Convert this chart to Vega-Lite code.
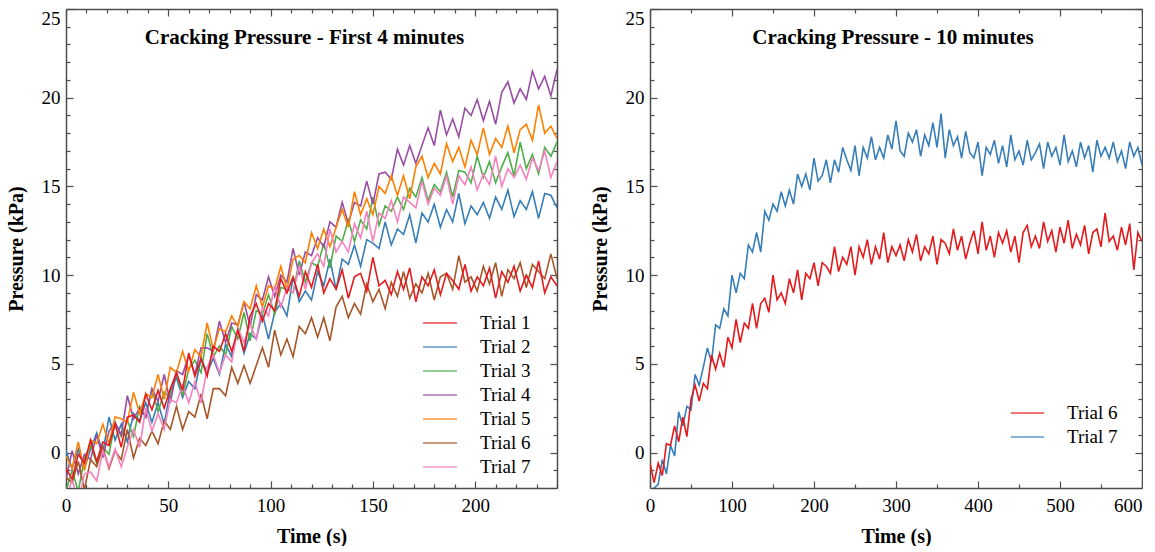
{
"$schema":"https://vega.github.io/schema/vega-lite/v6.json",
"background":"white",
"padding":{"left":6,"right":0,"top":8,"bottom":0},
"config":{
"font":"Liberation Serif",
"view":{"stroke":null},
"axis":{"grid":false,"domainColor":"#4d4d4d","domainWidth":1.5,"tickColor":"#4d4d4d","tickWidth":1.2,"labelFont":"Liberation Serif","labelFontSize":19,"labelColor":"#000","titleFont":"Liberation Serif","titleFontSize":20,"titleFontWeight":"bold","titleColor":"#000","labelOverlap":false,"labelFlush":false},
"legend":{"labelFont":"Liberation Serif","labelFontSize":19,"labelColor":"#000"}
},
"datasets":{
"left":[
{"s":1,"x":0,"y":-0.9},{"s":1,"x":3,"y":-1.5},{"s":1,"x":6,"y":-0.1},{"s":1,"x":9,"y":-0.6},{"s":1,"x":12,"y":0.7},{"s":1,"x":15,"y":-0.5},{"s":1,"x":18,"y":0.6},{"s":1,"x":21,"y":0.4},{"s":1,"x":24,"y":1.6},{"s":1,"x":27,"y":0.3},{"s":1,"x":30,"y":2.0},{"s":1,"x":33,"y":2.1},{"s":1,"x":36,"y":1.7},{"s":1,"x":39,"y":3.3},{"s":1,"x":42,"y":2.4},{"s":1,"x":45,"y":3.5},{"s":1,"x":48,"y":2.5},{"s":1,"x":51,"y":3.6},{"s":1,"x":54,"y":4.5},{"s":1,"x":57,"y":3.5},{"s":1,"x":60,"y":5.6},{"s":1,"x":63,"y":4.3},{"s":1,"x":66,"y":5.3},{"s":1,"x":69,"y":4.3},{"s":1,"x":72,"y":6.0},{"s":1,"x":75,"y":5.7},{"s":1,"x":78,"y":6.7},{"s":1,"x":81,"y":5.7},{"s":1,"x":84,"y":6.9},{"s":1,"x":87,"y":5.7},{"s":1,"x":90,"y":7.7},{"s":1,"x":93,"y":8.4},{"s":1,"x":96,"y":7.4},{"s":1,"x":99,"y":8.4},{"s":1,"x":102,"y":8.0},{"s":1,"x":105,"y":9.8},{"s":1,"x":108,"y":9.0},{"s":1,"x":111,"y":9.9},{"s":1,"x":114,"y":8.8},{"s":1,"x":117,"y":10.2},{"s":1,"x":120,"y":9.3},{"s":1,"x":123,"y":10.6},{"s":1,"x":126,"y":9.0},{"s":1,"x":129,"y":9.8},{"s":1,"x":132,"y":9.2},{"s":1,"x":135,"y":10.3},{"s":1,"x":138,"y":8.7},{"s":1,"x":141,"y":9.9},{"s":1,"x":144,"y":10.1},{"s":1,"x":147,"y":9.1},{"s":1,"x":150,"y":11.0},{"s":1,"x":153,"y":9.4},{"s":1,"x":156,"y":9.7},{"s":1,"x":159,"y":8.9},{"s":1,"x":162,"y":10.2},{"s":1,"x":165,"y":9.2},{"s":1,"x":168,"y":10.4},{"s":1,"x":171,"y":8.5},{"s":1,"x":174,"y":9.9},{"s":1,"x":177,"y":9.4},{"s":1,"x":180,"y":10.3},{"s":1,"x":183,"y":8.9},{"s":1,"x":186,"y":10.1},{"s":1,"x":189,"y":9.7},{"s":1,"x":192,"y":9.2},{"s":1,"x":195,"y":10.6},{"s":1,"x":198,"y":9.1},{"s":1,"x":201,"y":9.9},{"s":1,"x":204,"y":9.4},{"s":1,"x":207,"y":10.4},{"s":1,"x":210,"y":8.7},{"s":1,"x":213,"y":10.2},{"s":1,"x":216,"y":9.6},{"s":1,"x":219,"y":10.5},{"s":1,"x":222,"y":9.1},{"s":1,"x":225,"y":10.0},{"s":1,"x":228,"y":9.3},{"s":1,"x":231,"y":10.8},{"s":1,"x":234,"y":9.0},{"s":1,"x":237,"y":9.9},{"s":1,"x":240,"y":9.4},
{"s":2,"x":0,"y":0.1},{"s":2,"x":3,"y":-0.9},{"s":2,"x":6,"y":0.2},{"s":2,"x":9,"y":-0.9},{"s":2,"x":12,"y":0.2},{"s":2,"x":15,"y":1.1},{"s":2,"x":18,"y":0.0},{"s":2,"x":21,"y":2.0},{"s":2,"x":24,"y":0.7},{"s":2,"x":27,"y":1.6},{"s":2,"x":30,"y":0.6},{"s":2,"x":33,"y":2.2},{"s":2,"x":36,"y":1.8},{"s":2,"x":39,"y":2.8},{"s":2,"x":42,"y":1.7},{"s":2,"x":45,"y":2.8},{"s":2,"x":48,"y":1.6},{"s":2,"x":51,"y":3.5},{"s":2,"x":54,"y":4.2},{"s":2,"x":57,"y":3.1},{"s":2,"x":60,"y":4.0},{"s":2,"x":63,"y":3.6},{"s":2,"x":66,"y":5.3},{"s":2,"x":69,"y":4.5},{"s":2,"x":72,"y":5.3},{"s":2,"x":75,"y":4.4},{"s":2,"x":78,"y":6.1},{"s":2,"x":81,"y":5.4},{"s":2,"x":84,"y":7.0},{"s":2,"x":87,"y":5.6},{"s":2,"x":90,"y":6.7},{"s":2,"x":93,"y":6.4},{"s":2,"x":96,"y":7.8},{"s":2,"x":99,"y":6.4},{"s":2,"x":102,"y":7.9},{"s":2,"x":105,"y":8.4},{"s":2,"x":108,"y":7.7},{"s":2,"x":111,"y":9.9},{"s":2,"x":114,"y":8.5},{"s":2,"x":117,"y":9.1},{"s":2,"x":120,"y":8.6},{"s":2,"x":123,"y":10.2},{"s":2,"x":126,"y":9.4},{"s":2,"x":129,"y":10.9},{"s":2,"x":132,"y":9.2},{"s":2,"x":135,"y":10.9},{"s":2,"x":138,"y":10.6},{"s":2,"x":141,"y":11.7},{"s":2,"x":144,"y":10.5},{"s":2,"x":147,"y":12.0},{"s":2,"x":150,"y":11.8},{"s":2,"x":153,"y":11.5},{"s":2,"x":156,"y":13.0},{"s":2,"x":159,"y":11.7},{"s":2,"x":162,"y":12.6},{"s":2,"x":165,"y":12.3},{"s":2,"x":168,"y":13.4},{"s":2,"x":171,"y":11.8},{"s":2,"x":174,"y":13.5},{"s":2,"x":177,"y":13.0},{"s":2,"x":180,"y":14.0},{"s":2,"x":183,"y":12.7},{"s":2,"x":186,"y":13.7},{"s":2,"x":189,"y":13.0},{"s":2,"x":192,"y":14.6},{"s":2,"x":195,"y":12.9},{"s":2,"x":198,"y":13.9},{"s":2,"x":201,"y":13.4},{"s":2,"x":204,"y":14.1},{"s":2,"x":207,"y":13.2},{"s":2,"x":210,"y":14.4},{"s":2,"x":213,"y":13.7},{"s":2,"x":216,"y":14.8},{"s":2,"x":219,"y":13.3},{"s":2,"x":222,"y":14.2},{"s":2,"x":225,"y":13.7},{"s":2,"x":228,"y":14.7},{"s":2,"x":231,"y":13.2},{"s":2,"x":234,"y":14.6},{"s":2,"x":237,"y":14.5},{"s":2,"x":240,"y":13.8},
{"s":3,"x":0,"y":-2.2},{"s":3,"x":3,"y":-1.0},{"s":3,"x":6,"y":-2.2},{"s":3,"x":9,"y":-0.3},{"s":3,"x":12,"y":0.4},{"s":3,"x":15,"y":-0.6},{"s":3,"x":18,"y":0.3},{"s":3,"x":21,"y":-0.1},{"s":3,"x":24,"y":1.7},{"s":3,"x":27,"y":0.9},{"s":3,"x":30,"y":1.8},{"s":3,"x":33,"y":0.9},{"s":3,"x":36,"y":2.6},{"s":3,"x":39,"y":2.0},{"s":3,"x":42,"y":3.6},{"s":3,"x":45,"y":2.3},{"s":3,"x":48,"y":3.4},{"s":3,"x":51,"y":3.1},{"s":3,"x":54,"y":4.5},{"s":3,"x":57,"y":3.2},{"s":3,"x":60,"y":4.7},{"s":3,"x":63,"y":5.2},{"s":3,"x":66,"y":4.5},{"s":3,"x":69,"y":6.7},{"s":3,"x":72,"y":5.4},{"s":3,"x":75,"y":6.0},{"s":3,"x":78,"y":5.5},{"s":3,"x":81,"y":7.1},{"s":3,"x":84,"y":6.4},{"s":3,"x":87,"y":7.9},{"s":3,"x":90,"y":6.3},{"s":3,"x":93,"y":8.0},{"s":3,"x":96,"y":7.8},{"s":3,"x":99,"y":8.9},{"s":3,"x":102,"y":7.8},{"s":3,"x":105,"y":9.3},{"s":3,"x":108,"y":9.2},{"s":3,"x":111,"y":9.0},{"s":3,"x":114,"y":10.8},{"s":3,"x":117,"y":9.6},{"s":3,"x":120,"y":10.7},{"s":3,"x":123,"y":10.5},{"s":3,"x":126,"y":11.8},{"s":3,"x":129,"y":10.4},{"s":3,"x":132,"y":12.2},{"s":3,"x":135,"y":11.9},{"s":3,"x":138,"y":13.1},{"s":3,"x":141,"y":11.9},{"s":3,"x":144,"y":13.1},{"s":3,"x":147,"y":12.6},{"s":3,"x":150,"y":14.4},{"s":3,"x":153,"y":12.8},{"s":3,"x":156,"y":13.9},{"s":3,"x":159,"y":13.6},{"s":3,"x":162,"y":14.4},{"s":3,"x":165,"y":13.7},{"s":3,"x":168,"y":14.9},{"s":3,"x":171,"y":14.4},{"s":3,"x":174,"y":15.5},{"s":3,"x":177,"y":14.2},{"s":3,"x":180,"y":15.1},{"s":3,"x":183,"y":14.7},{"s":3,"x":186,"y":15.8},{"s":3,"x":189,"y":14.4},{"s":3,"x":192,"y":15.9},{"s":3,"x":195,"y":15.8},{"s":3,"x":198,"y":15.2},{"s":3,"x":201,"y":16.7},{"s":3,"x":204,"y":15.5},{"s":3,"x":207,"y":16.4},{"s":3,"x":210,"y":15.2},{"s":3,"x":213,"y":16.1},{"s":3,"x":216,"y":16.9},{"s":3,"x":219,"y":15.6},{"s":3,"x":222,"y":17.5},{"s":3,"x":225,"y":16.0},{"s":3,"x":228,"y":16.8},{"s":3,"x":231,"y":15.7},{"s":3,"x":234,"y":17.2},{"s":3,"x":237,"y":16.7},{"s":3,"x":240,"y":17.5},
{"s":4,"x":0,"y":-1.5},{"s":4,"x":3,"y":0.1},{"s":4,"x":6,"y":-1.2},{"s":4,"x":9,"y":-0.1},{"s":4,"x":12,"y":-0.4},{"s":4,"x":15,"y":1.0},{"s":4,"x":18,"y":-0.3},{"s":4,"x":21,"y":1.2},{"s":4,"x":24,"y":1.7},{"s":4,"x":27,"y":1.0},{"s":4,"x":30,"y":3.2},{"s":4,"x":33,"y":1.9},{"s":4,"x":36,"y":2.5},{"s":4,"x":39,"y":2.0},{"s":4,"x":42,"y":3.6},{"s":4,"x":45,"y":2.9},{"s":4,"x":48,"y":4.4},{"s":4,"x":51,"y":2.8},{"s":4,"x":54,"y":4.6},{"s":4,"x":57,"y":4.4},{"s":4,"x":60,"y":5.5},{"s":4,"x":63,"y":4.4},{"s":4,"x":66,"y":5.9},{"s":4,"x":69,"y":5.9},{"s":4,"x":72,"y":5.7},{"s":4,"x":75,"y":7.4},{"s":4,"x":78,"y":6.2},{"s":4,"x":81,"y":7.3},{"s":4,"x":84,"y":7.2},{"s":4,"x":87,"y":8.5},{"s":4,"x":90,"y":7.1},{"s":4,"x":93,"y":8.9},{"s":4,"x":96,"y":8.6},{"s":4,"x":99,"y":9.9},{"s":4,"x":102,"y":8.8},{"s":4,"x":105,"y":10.0},{"s":4,"x":108,"y":9.6},{"s":4,"x":111,"y":11.5},{"s":4,"x":114,"y":10.0},{"s":4,"x":117,"y":11.3},{"s":4,"x":120,"y":11.1},{"s":4,"x":123,"y":12.1},{"s":4,"x":126,"y":11.6},{"s":4,"x":129,"y":13.0},{"s":4,"x":132,"y":12.7},{"s":4,"x":135,"y":14.1},{"s":4,"x":138,"y":12.9},{"s":4,"x":141,"y":14.1},{"s":4,"x":144,"y":13.9},{"s":4,"x":147,"y":15.3},{"s":4,"x":150,"y":14.0},{"s":4,"x":153,"y":15.7},{"s":4,"x":156,"y":15.8},{"s":4,"x":159,"y":15.4},{"s":4,"x":162,"y":17.1},{"s":4,"x":165,"y":16.2},{"s":4,"x":168,"y":17.3},{"s":4,"x":171,"y":16.3},{"s":4,"x":174,"y":17.3},{"s":4,"x":177,"y":18.3},{"s":4,"x":180,"y":17.3},{"s":4,"x":183,"y":19.3},{"s":4,"x":186,"y":17.9},{"s":4,"x":189,"y":18.8},{"s":4,"x":192,"y":17.8},{"s":4,"x":195,"y":19.4},{"s":4,"x":198,"y":19.0},{"s":4,"x":201,"y":19.9},{"s":4,"x":204,"y":18.7},{"s":4,"x":207,"y":19.8},{"s":4,"x":210,"y":18.5},{"s":4,"x":213,"y":20.3},{"s":4,"x":216,"y":20.9},{"s":4,"x":219,"y":19.7},{"s":4,"x":222,"y":20.5},{"s":4,"x":225,"y":19.9},{"s":4,"x":228,"y":21.5},{"s":4,"x":231,"y":20.5},{"s":4,"x":234,"y":21.2},{"s":4,"x":237,"y":20.1},{"s":4,"x":240,"y":21.6},
{"s":5,"x":0,"y":-0.2},{"s":5,"x":3,"y":-0.9},{"s":5,"x":6,"y":0.6},{"s":5,"x":9,"y":-1.0},{"s":5,"x":12,"y":0.7},{"s":5,"x":15,"y":0.5},{"s":5,"x":18,"y":1.6},{"s":5,"x":21,"y":0.5},{"s":5,"x":24,"y":2.0},{"s":5,"x":27,"y":1.9},{"s":5,"x":30,"y":1.7},{"s":5,"x":33,"y":3.4},{"s":5,"x":36,"y":2.2},{"s":5,"x":39,"y":3.3},{"s":5,"x":42,"y":3.1},{"s":5,"x":45,"y":4.4},{"s":5,"x":48,"y":3.0},{"s":5,"x":51,"y":4.8},{"s":5,"x":54,"y":4.5},{"s":5,"x":57,"y":5.7},{"s":5,"x":60,"y":4.6},{"s":5,"x":63,"y":5.8},{"s":5,"x":66,"y":5.4},{"s":5,"x":69,"y":7.3},{"s":5,"x":72,"y":5.8},{"s":5,"x":75,"y":7.0},{"s":5,"x":78,"y":6.8},{"s":5,"x":81,"y":7.7},{"s":5,"x":84,"y":7.1},{"s":5,"x":87,"y":8.5},{"s":5,"x":90,"y":8.1},{"s":5,"x":93,"y":9.4},{"s":5,"x":96,"y":8.2},{"s":5,"x":99,"y":9.4},{"s":5,"x":102,"y":9.2},{"s":5,"x":105,"y":10.5},{"s":5,"x":108,"y":9.2},{"s":5,"x":111,"y":10.9},{"s":5,"x":114,"y":11.1},{"s":5,"x":117,"y":10.7},{"s":5,"x":120,"y":12.4},{"s":5,"x":123,"y":11.5},{"s":5,"x":126,"y":12.6},{"s":5,"x":129,"y":11.6},{"s":5,"x":132,"y":12.7},{"s":5,"x":135,"y":13.7},{"s":5,"x":138,"y":12.7},{"s":5,"x":141,"y":14.7},{"s":5,"x":144,"y":13.4},{"s":5,"x":147,"y":14.3},{"s":5,"x":150,"y":13.4},{"s":5,"x":153,"y":15.0},{"s":5,"x":156,"y":14.6},{"s":5,"x":159,"y":15.6},{"s":5,"x":162,"y":14.5},{"s":5,"x":165,"y":15.6},{"s":5,"x":168,"y":14.3},{"s":5,"x":171,"y":16.1},{"s":5,"x":174,"y":16.7},{"s":5,"x":177,"y":15.5},{"s":5,"x":180,"y":16.3},{"s":5,"x":183,"y":15.7},{"s":5,"x":186,"y":17.4},{"s":5,"x":189,"y":16.4},{"s":5,"x":192,"y":17.2},{"s":5,"x":195,"y":16.1},{"s":5,"x":198,"y":17.6},{"s":5,"x":201,"y":16.8},{"s":5,"x":204,"y":18.3},{"s":5,"x":207,"y":16.8},{"s":5,"x":210,"y":17.7},{"s":5,"x":213,"y":17.2},{"s":5,"x":216,"y":18.4},{"s":5,"x":219,"y":16.9},{"s":5,"x":222,"y":18.2},{"s":5,"x":225,"y":18.5},{"s":5,"x":228,"y":17.6},{"s":5,"x":231,"y":19.6},{"s":5,"x":234,"y":18.0},{"s":5,"x":237,"y":18.4},{"s":5,"x":240,"y":17.7},
{"s":6,"x":0,"y":-1.4},{"s":6,"x":3,"y":-1.7},{"s":6,"x":6,"y":-0.5},{"s":6,"x":9,"y":-2.1},{"s":6,"x":12,"y":-0.4},{"s":6,"x":15,"y":-0.8},{"s":6,"x":18,"y":0.3},{"s":6,"x":21,"y":-0.9},{"s":6,"x":24,"y":0.1},{"s":6,"x":27,"y":-0.4},{"s":6,"x":30,"y":1.3},{"s":6,"x":33,"y":-0.3},{"s":6,"x":36,"y":0.8},{"s":6,"x":39,"y":0.4},{"s":6,"x":42,"y":1.2},{"s":6,"x":45,"y":0.5},{"s":6,"x":48,"y":1.8},{"s":6,"x":51,"y":1.3},{"s":6,"x":54,"y":2.6},{"s":6,"x":57,"y":1.3},{"s":6,"x":60,"y":2.3},{"s":6,"x":63,"y":2.0},{"s":6,"x":66,"y":3.3},{"s":6,"x":69,"y":1.9},{"s":6,"x":72,"y":3.6},{"s":6,"x":75,"y":3.6},{"s":6,"x":78,"y":3.2},{"s":6,"x":81,"y":4.8},{"s":6,"x":84,"y":3.9},{"s":6,"x":87,"y":4.9},{"s":6,"x":90,"y":3.9},{"s":6,"x":93,"y":4.9},{"s":6,"x":96,"y":5.9},{"s":6,"x":99,"y":4.8},{"s":6,"x":102,"y":6.9},{"s":6,"x":105,"y":5.5},{"s":6,"x":108,"y":6.4},{"s":6,"x":111,"y":5.4},{"s":6,"x":114,"y":7.1},{"s":6,"x":117,"y":6.7},{"s":6,"x":120,"y":7.6},{"s":6,"x":123,"y":6.5},{"s":6,"x":126,"y":7.6},{"s":6,"x":129,"y":6.3},{"s":6,"x":132,"y":8.2},{"s":6,"x":135,"y":8.8},{"s":6,"x":138,"y":7.6},{"s":6,"x":141,"y":8.4},{"s":6,"x":144,"y":7.8},{"s":6,"x":147,"y":9.5},{"s":6,"x":150,"y":8.5},{"s":6,"x":153,"y":9.2},{"s":6,"x":156,"y":8.1},{"s":6,"x":159,"y":9.6},{"s":6,"x":162,"y":8.8},{"s":6,"x":165,"y":10.2},{"s":6,"x":168,"y":8.7},{"s":6,"x":171,"y":9.5},{"s":6,"x":174,"y":9.0},{"s":6,"x":177,"y":10.1},{"s":6,"x":180,"y":8.6},{"s":6,"x":183,"y":9.9},{"s":6,"x":186,"y":10.1},{"s":6,"x":189,"y":9.2},{"s":6,"x":192,"y":11.1},{"s":6,"x":195,"y":9.6},{"s":6,"x":198,"y":9.9},{"s":6,"x":201,"y":9.1},{"s":6,"x":204,"y":10.5},{"s":6,"x":207,"y":9.5},{"s":6,"x":210,"y":10.7},{"s":6,"x":213,"y":8.8},{"s":6,"x":216,"y":10.3},{"s":6,"x":219,"y":9.8},{"s":6,"x":222,"y":10.7},{"s":6,"x":225,"y":9.3},{"s":6,"x":228,"y":10.6},{"s":6,"x":231,"y":10.2},{"s":6,"x":234,"y":9.8},{"s":6,"x":237,"y":11.2},{"s":6,"x":240,"y":9.8},
{"s":7,"x":0,"y":-2.7},{"s":7,"x":3,"y":-1.5},{"s":7,"x":6,"y":-2.8},{"s":7,"x":9,"y":-1.2},{"s":7,"x":12,"y":-1.1},{"s":7,"x":15,"y":-1.6},{"s":7,"x":18,"y":0.1},{"s":7,"x":21,"y":-0.8},{"s":7,"x":24,"y":0.2},{"s":7,"x":27,"y":-0.8},{"s":7,"x":30,"y":0.3},{"s":7,"x":33,"y":1.3},{"s":7,"x":36,"y":0.3},{"s":7,"x":39,"y":2.5},{"s":7,"x":42,"y":1.2},{"s":7,"x":45,"y":2.2},{"s":7,"x":48,"y":1.3},{"s":7,"x":51,"y":3.0},{"s":7,"x":54,"y":2.8},{"s":7,"x":57,"y":3.8},{"s":7,"x":60,"y":2.8},{"s":7,"x":63,"y":4.0},{"s":7,"x":66,"y":2.8},{"s":7,"x":69,"y":4.8},{"s":7,"x":72,"y":5.5},{"s":7,"x":75,"y":4.5},{"s":7,"x":78,"y":5.5},{"s":7,"x":81,"y":5.1},{"s":7,"x":84,"y":7.0},{"s":7,"x":87,"y":6.2},{"s":7,"x":90,"y":7.2},{"s":7,"x":93,"y":6.4},{"s":7,"x":96,"y":8.2},{"s":7,"x":99,"y":7.7},{"s":7,"x":102,"y":9.4},{"s":7,"x":105,"y":8.2},{"s":7,"x":108,"y":9.3},{"s":7,"x":111,"y":9.0},{"s":7,"x":114,"y":10.5},{"s":7,"x":117,"y":9.2},{"s":7,"x":120,"y":10.7},{"s":7,"x":123,"y":11.2},{"s":7,"x":126,"y":10.5},{"s":7,"x":129,"y":12.6},{"s":7,"x":132,"y":11.3},{"s":7,"x":135,"y":11.9},{"s":7,"x":138,"y":11.3},{"s":7,"x":141,"y":12.9},{"s":7,"x":144,"y":12.1},{"s":7,"x":147,"y":13.6},{"s":7,"x":150,"y":11.9},{"s":7,"x":153,"y":13.5},{"s":7,"x":156,"y":13.2},{"s":7,"x":159,"y":14.2},{"s":7,"x":162,"y":13.0},{"s":7,"x":165,"y":14.4},{"s":7,"x":168,"y":14.1},{"s":7,"x":171,"y":13.8},{"s":7,"x":174,"y":15.3},{"s":7,"x":177,"y":14.0},{"s":7,"x":180,"y":14.9},{"s":7,"x":183,"y":14.5},{"s":7,"x":186,"y":15.6},{"s":7,"x":189,"y":14.0},{"s":7,"x":192,"y":15.6},{"s":7,"x":195,"y":15.1},{"s":7,"x":198,"y":16.1},{"s":7,"x":201,"y":14.8},{"s":7,"x":204,"y":15.7},{"s":7,"x":207,"y":15.1},{"s":7,"x":210,"y":16.7},{"s":7,"x":213,"y":15.0},{"s":7,"x":216,"y":16.0},{"s":7,"x":219,"y":15.5},{"s":7,"x":222,"y":16.2},{"s":7,"x":225,"y":15.4},{"s":7,"x":228,"y":16.6},{"s":7,"x":231,"y":15.9},{"s":7,"x":234,"y":17.0},{"s":7,"x":237,"y":15.5},{"s":7,"x":240,"y":16.4}
],
"right":[
{"s":6,"x":0,"y":-0.6},{"s":6,"x":5,"y":-1.7},{"s":6,"x":10,"y":-0.6},{"s":6,"x":15,"y":-1.3},{"s":6,"x":20,"y":0.5},{"s":6,"x":25,"y":0.4},{"s":6,"x":30,"y":1.5},{"s":6,"x":35,"y":0.6},{"s":6,"x":40,"y":2.0},{"s":6,"x":45,"y":0.9},{"s":6,"x":50,"y":3.0},{"s":6,"x":55,"y":3.8},{"s":6,"x":60,"y":2.9},{"s":6,"x":65,"y":3.9},{"s":6,"x":70,"y":3.6},{"s":6,"x":75,"y":5.5},{"s":6,"x":80,"y":4.7},{"s":6,"x":85,"y":5.6},{"s":6,"x":90,"y":4.8},{"s":6,"x":95,"y":6.5},{"s":6,"x":100,"y":5.9},{"s":6,"x":105,"y":7.5},{"s":6,"x":110,"y":6.2},{"s":6,"x":115,"y":7.3},{"s":6,"x":120,"y":7.0},{"s":6,"x":125,"y":8.4},{"s":6,"x":130,"y":7.0},{"s":6,"x":135,"y":8.4},{"s":6,"x":140,"y":8.7},{"s":6,"x":145,"y":7.9},{"s":6,"x":150,"y":10.0},{"s":6,"x":155,"y":8.6},{"s":6,"x":160,"y":9.0},{"s":6,"x":165,"y":8.4},{"s":6,"x":170,"y":9.8},{"s":6,"x":175,"y":9.0},{"s":6,"x":180,"y":10.3},{"s":6,"x":185,"y":8.6},{"s":6,"x":190,"y":10.1},{"s":6,"x":195,"y":9.8},{"s":6,"x":200,"y":10.7},{"s":6,"x":205,"y":9.4},{"s":6,"x":210,"y":10.7},{"s":6,"x":215,"y":10.5},{"s":6,"x":220,"y":10.1},{"s":6,"x":225,"y":11.6},{"s":6,"x":230,"y":10.2},{"s":6,"x":235,"y":11.0},{"s":6,"x":240,"y":10.6},{"s":6,"x":245,"y":11.6},{"s":6,"x":250,"y":10.0},{"s":6,"x":255,"y":11.6},{"s":6,"x":260,"y":11.0},{"s":6,"x":265,"y":12.0},{"s":6,"x":270,"y":10.6},{"s":6,"x":275,"y":11.6},{"s":6,"x":280,"y":10.9},{"s":6,"x":285,"y":12.4},{"s":6,"x":290,"y":10.7},{"s":6,"x":295,"y":11.6},{"s":6,"x":300,"y":11.1},{"s":6,"x":305,"y":11.7},{"s":6,"x":310,"y":10.8},{"s":6,"x":315,"y":12.0},{"s":6,"x":320,"y":11.3},{"s":6,"x":325,"y":12.3},{"s":6,"x":330,"y":10.8},{"s":6,"x":335,"y":11.6},{"s":6,"x":340,"y":11.2},{"s":6,"x":345,"y":12.2},{"s":6,"x":350,"y":10.6},{"s":6,"x":355,"y":12.0},{"s":6,"x":360,"y":11.8},{"s":6,"x":365,"y":11.2},{"s":6,"x":370,"y":12.6},{"s":6,"x":375,"y":11.4},{"s":6,"x":380,"y":12.2},{"s":6,"x":385,"y":10.9},{"s":6,"x":390,"y":11.8},{"s":6,"x":395,"y":12.5},{"s":6,"x":400,"y":11.2},{"s":6,"x":405,"y":13.0},{"s":6,"x":410,"y":11.4},{"s":6,"x":415,"y":12.2},{"s":6,"x":420,"y":11.0},{"s":6,"x":425,"y":12.4},{"s":6,"x":430,"y":11.8},{"s":6,"x":435,"y":12.5},{"s":6,"x":440,"y":11.3},{"s":6,"x":445,"y":12.2},{"s":6,"x":450,"y":10.7},{"s":6,"x":455,"y":12.4},{"s":6,"x":460,"y":12.8},{"s":6,"x":465,"y":11.6},{"s":6,"x":470,"y":12.2},{"s":6,"x":475,"y":11.5},{"s":6,"x":480,"y":13.0},{"s":6,"x":485,"y":11.9},{"s":6,"x":490,"y":12.5},{"s":6,"x":495,"y":11.3},{"s":6,"x":500,"y":12.7},{"s":6,"x":505,"y":11.8},{"s":6,"x":510,"y":13.1},{"s":6,"x":515,"y":11.5},{"s":6,"x":520,"y":12.3},{"s":6,"x":525,"y":11.7},{"s":6,"x":530,"y":12.8},{"s":6,"x":535,"y":11.2},{"s":6,"x":540,"y":12.4},{"s":6,"x":545,"y":12.6},{"s":6,"x":550,"y":11.6},{"s":6,"x":555,"y":13.5},{"s":6,"x":560,"y":11.9},{"s":6,"x":565,"y":12.2},{"s":6,"x":570,"y":11.4},{"s":6,"x":575,"y":12.7},{"s":6,"x":580,"y":11.7},{"s":6,"x":585,"y":12.9},{"s":6,"x":590,"y":10.3},{"s":6,"x":595,"y":12.4},{"s":6,"x":600,"y":11.9},
{"s":7,"x":0,"y":-3.0},{"s":7,"x":5,"y":-2.0},{"s":7,"x":10,"y":-1.8},{"s":7,"x":15,"y":-0.4},{"s":7,"x":20,"y":-1.2},{"s":7,"x":25,"y":0.4},{"s":7,"x":30,"y":-0.2},{"s":7,"x":35,"y":2.3},{"s":7,"x":40,"y":1.5},{"s":7,"x":45,"y":2.6},{"s":7,"x":50,"y":2.4},{"s":7,"x":55,"y":4.4},{"s":7,"x":60,"y":3.8},{"s":7,"x":65,"y":4.8},{"s":7,"x":70,"y":5.9},{"s":7,"x":75,"y":5.1},{"s":7,"x":80,"y":7.2},{"s":7,"x":85,"y":7.0},{"s":7,"x":90,"y":8.1},{"s":7,"x":95,"y":7.7},{"s":7,"x":100,"y":10.0},{"s":7,"x":105,"y":9.0},{"s":7,"x":110,"y":10.1},{"s":7,"x":115,"y":9.8},{"s":7,"x":120,"y":11.7},{"s":7,"x":125,"y":11.3},{"s":7,"x":130,"y":12.4},{"s":7,"x":135,"y":11.3},{"s":7,"x":140,"y":13.6},{"s":7,"x":145,"y":13.1},{"s":7,"x":150,"y":14.0},{"s":7,"x":155,"y":13.6},{"s":7,"x":160,"y":14.7},{"s":7,"x":165,"y":13.9},{"s":7,"x":170,"y":14.8},{"s":7,"x":175,"y":14.0},{"s":7,"x":180,"y":15.7},{"s":7,"x":185,"y":15.0},{"s":7,"x":190,"y":15.7},{"s":7,"x":195,"y":14.8},{"s":7,"x":200,"y":16.6},{"s":7,"x":205,"y":15.3},{"s":7,"x":210,"y":15.6},{"s":7,"x":215,"y":16.5},{"s":7,"x":220,"y":15.2},{"s":7,"x":225,"y":16.5},{"s":7,"x":230,"y":15.8},{"s":7,"x":235,"y":17.2},{"s":7,"x":240,"y":16.5},{"s":7,"x":245,"y":15.9},{"s":7,"x":250,"y":17.3},{"s":7,"x":255,"y":15.6},{"s":7,"x":260,"y":17.2},{"s":7,"x":265,"y":16.6},{"s":7,"x":270,"y":17.8},{"s":7,"x":275,"y":16.5},{"s":7,"x":280,"y":17.2},{"s":7,"x":285,"y":16.6},{"s":7,"x":290,"y":17.9},{"s":7,"x":295,"y":17.1},{"s":7,"x":300,"y":18.7},{"s":7,"x":305,"y":17.0},{"s":7,"x":310,"y":16.7},{"s":7,"x":315,"y":18.0},{"s":7,"x":320,"y":17.5},{"s":7,"x":325,"y":18.2},{"s":7,"x":330,"y":16.7},{"s":7,"x":335,"y":17.9},{"s":7,"x":340,"y":17.3},{"s":7,"x":345,"y":18.6},{"s":7,"x":350,"y":17.2},{"s":7,"x":355,"y":19.1},{"s":7,"x":360,"y":16.6},{"s":7,"x":365,"y":18.2},{"s":7,"x":370,"y":17.3},{"s":7,"x":375,"y":17.8},{"s":7,"x":380,"y":16.6},{"s":7,"x":385,"y":18.1},{"s":7,"x":390,"y":16.9},{"s":7,"x":395,"y":16.6},{"s":7,"x":400,"y":17.5},{"s":7,"x":405,"y":15.6},{"s":7,"x":410,"y":17.2},{"s":7,"x":415,"y":16.8},{"s":7,"x":420,"y":17.6},{"s":7,"x":425,"y":16.3},{"s":7,"x":430,"y":17.3},{"s":7,"x":435,"y":16.1},{"s":7,"x":440,"y":17.9},{"s":7,"x":445,"y":16.5},{"s":7,"x":450,"y":17.0},{"s":7,"x":455,"y":16.2},{"s":7,"x":460,"y":17.6},{"s":7,"x":465,"y":16.5},{"s":7,"x":470,"y":16.9},{"s":7,"x":475,"y":17.4},{"s":7,"x":480,"y":16.0},{"s":7,"x":485,"y":17.5},{"s":7,"x":490,"y":16.7},{"s":7,"x":495,"y":17.2},{"s":7,"x":500,"y":16.2},{"s":7,"x":505,"y":17.9},{"s":7,"x":510,"y":16.4},{"s":7,"x":515,"y":17.0},{"s":7,"x":520,"y":16.1},{"s":7,"x":525,"y":17.5},{"s":7,"x":530,"y":16.6},{"s":7,"x":535,"y":17.3},{"s":7,"x":540,"y":15.8},{"s":7,"x":545,"y":17.6},{"s":7,"x":550,"y":16.7},{"s":7,"x":555,"y":17.2},{"s":7,"x":560,"y":16.6},{"s":7,"x":565,"y":17.5},{"s":7,"x":570,"y":16.4},{"s":7,"x":575,"y":17.0},{"s":7,"x":580,"y":16.0},{"s":7,"x":585,"y":17.5},{"s":7,"x":590,"y":16.7},{"s":7,"x":595,"y":17.2},{"s":7,"x":600,"y":16.2}
]
},
"hconcat":[
{
"width":491,"height":479,
"title":{"text":"Cracking Pressure - First 4 minutes","frame":"group","anchor":"middle","offset":-57,"baseline":"alphabetic","fontSize":21,"fontWeight":"bold","font":"Liberation Serif","color":"#000","dx":-7},
"layer":[
{"data":{"name":"left"},"transform":[{"filter":"datum.s != 1"}],
"mark":{"type":"line","strokeWidth":1.6,"clip":true},
"encoding":{
"x":{"field":"x","type":"quantitative","scale":{"domain":[0,240],"nice":false,"zero":false},
"axis":{"orient":"bottom","values":[0,10,20,30,40,50,60,70,80,90,100,110,120,130,140,150,160,170,180,190,200,210,220,230,240],"labelExpr":"datum.value % 50 === 0 ? datum.label : ''","tickSize":{"condition":{"test":"datum.value % 50 === 0","value":-7},"value":-4},"labelPadding":15,"title":"Time (s)","titlePadding":8}},
"y":{"field":"y","type":"quantitative","scale":{"domain":[-2,25],"nice":false,"zero":false},
"axis":{"orient":"left","values":[-1,0,1,2,3,4,5,6,7,8,9,10,11,12,13,14,15,16,17,18,19,20,21,22,23,24,25],"labelExpr":"datum.value % 5 === 0 ? datum.label : ''","tickSize":{"condition":{"test":"datum.value % 5 === 0","value":-7},"value":-4},"labelBaseline":{"condition":{"test":"datum.value === 25","value":"top"},"value":"middle"},"labelPadding":13,"title":"Pressure (kPa)","titlePadding":15}},
"color":{"field":"s","type":"nominal","scale":{"domain":[1,2,3,4,5,6,7],"range":["#e41a1c","#377eb8","#4daf4a","#984ea3","#ff7f00","#a65628","#f781bf"]},
"legend":{"orient":"none","legendX":356,"legendY":304,"title":null,"padding":0,"symbolType":"stroke","symbolSize":1150,"symbolStrokeWidth":1.5,"symbolOpacity":0.8,"labelOffset":22,"clipHeight":20,"rowPadding":4,"labelExpr":"'Trial ' + datum.label"}}
}},
{"data":{"name":"left"},"transform":[{"filter":"datum.s == 1"}],
"mark":{"type":"line","strokeWidth":1.6,"clip":true},
"encoding":{
"x":{"field":"x","type":"quantitative","axis":null},
"y":{"field":"y","type":"quantitative","axis":null},
"color":{"field":"s","type":"nominal"}
}},
{"data":{"values":[{"x":0,"y":0}]},
"mark":{"type":"point","opacity":0},
"encoding":{
"x":{"field":"x","type":"quantitative","axis":{"orient":"top","values":[0,10,20,30,40,50,60,70,80,90,100,110,120,130,140,150,160,170,180,190,200,210,220,230,240],"labels":false,"title":null,"tickSize":{"condition":{"test":"datum.value % 50 === 0","value":-7},"value":-4}}},
"y":{"field":"y","type":"quantitative","axis":{"orient":"right","values":[-1,0,1,2,3,4,5,6,7,8,9,10,11,12,13,14,15,16,17,18,19,20,21,22,23,24,25],"labels":false,"title":null,"tickSize":{"condition":{"test":"datum.value % 5 === 0","value":-7},"value":-4}}}
}}
],
"resolve":{"axis":{"x":"independent","y":"independent"}}
},
{
"width":492,"height":479,
"title":{"text":"Cracking Pressure - 10 minutes","frame":"group","anchor":"middle","offset":-57,"baseline":"alphabetic","fontSize":21,"fontWeight":"bold","font":"Liberation Serif","color":"#000","dx":-3},
"layer":[
{"data":{"name":"right"},"transform":[{"filter":"datum.s == 7"}],
"mark":{"type":"line","strokeWidth":1.6,"clip":true},
"encoding":{
"x":{"field":"x","type":"quantitative","scale":{"domain":[0,600],"nice":false,"zero":false},
"axis":{"orient":"bottom","values":[0,50,100,150,200,250,300,350,400,450,500,550,600],"labelExpr":"datum.value % 100 === 0 ? datum.label : ''","tickSize":{"condition":{"test":"datum.value % 100 === 0","value":-7},"value":-4},"labelAlign":{"condition":{"test":"datum.value === 600","value":"right"},"value":"center"},"labelPadding":15,"title":"Time (s)","titlePadding":8}},
"y":{"field":"y","type":"quantitative","scale":{"domain":[-2,25],"nice":false,"zero":false},
"axis":{"orient":"left","values":[-1,0,1,2,3,4,5,6,7,8,9,10,11,12,13,14,15,16,17,18,19,20,21,22,23,24,25],"labelExpr":"datum.value % 5 === 0 ? datum.label : ''","tickSize":{"condition":{"test":"datum.value % 5 === 0","value":-7},"value":-4},"labelBaseline":{"condition":{"test":"datum.value === 25","value":"top"},"value":"middle"},"labelPadding":13,"title":"Pressure (kPa)","titlePadding":15}},
"color":{"field":"s","type":"nominal","scale":{"domain":[6,7],"range":["#e41a1c","#377eb8"]},
"legend":{"orient":"none","legendX":360,"legendY":394,"title":null,"padding":0,"symbolType":"stroke","symbolSize":1100,"symbolStrokeWidth":1.5,"symbolOpacity":0.8,"labelOffset":22,"clipHeight":20,"rowPadding":4,"labelExpr":"'Trial ' + datum.label"}}
}},
{"data":{"name":"right"},"transform":[{"filter":"datum.s == 6"}],
"mark":{"type":"line","strokeWidth":1.6,"clip":true},
"encoding":{
"x":{"field":"x","type":"quantitative","axis":null},
"y":{"field":"y","type":"quantitative","axis":null},
"color":{"field":"s","type":"nominal"}
}},
{"data":{"values":[{"x":0,"y":0}]},
"mark":{"type":"point","opacity":0},
"encoding":{
"x":{"field":"x","type":"quantitative","axis":{"orient":"top","values":[0,50,100,150,200,250,300,350,400,450,500,550,600],"labels":false,"title":null,"tickSize":{"condition":{"test":"datum.value % 100 === 0","value":-7},"value":-4}}},
"y":{"field":"y","type":"quantitative","axis":{"orient":"right","values":[-1,0,1,2,3,4,5,6,7,8,9,10,11,12,13,14,15,16,17,18,19,20,21,22,23,24,25],"labels":false,"title":null,"tickSize":{"condition":{"test":"datum.value % 5 === 0","value":-7},"value":-4}}}
}}
],
"resolve":{"axis":{"x":"independent","y":"independent"}}
}
],
"spacing":32,
"resolve":{"scale":{"color":"independent"},"legend":{"color":"independent"}}
}
